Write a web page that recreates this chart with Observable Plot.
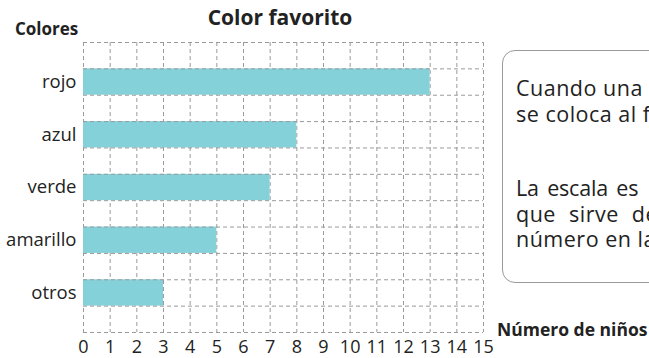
<!DOCTYPE html>
<html>
<head>
<meta charset="utf-8">
<script src="https://cdn.jsdelivr.net/npm/d3@7"></script>
<script src="https://cdn.jsdelivr.net/npm/@observablehq/plot@0.6"></script>
<style>
  html, body { margin: 0; padding: 0; background: #fff; overflow: hidden; }
  body { width: 649px; height: 358px; position: relative; font-family: "Open Sans", sans-serif; color: #222; }
  #chart { position: absolute; left: 0; top: 0; }
  .lbl { position: absolute; font-weight: bold; white-space: nowrap; color: #222; }
  #title { left: 0; width: 560px; text-align: center; top: 3px; font-size: 21px; }
  #ylab { left: 15px; top: 17px; font-size: 17px; }
  #xlab { left: 497px; top: 317px; font-size: 17.5px; }
  #note { position: absolute; left: 502px; top: 50px; width: 320px; height: 233px; border: 1px solid #9a9a9a; border-radius: 13px; box-sizing: border-box; padding: 24px 0 0 13px; font-size: 21.5px; line-height: 25.5px; letter-spacing: 0.5px; color: #222; white-space: nowrap; }
  #note .gap { height: 49px; }
  #note .rest { margin-left: 30px; }
</style>
</head>
<body>
<div id="chart"></div>
<div class="lbl" id="title">Color favorito</div>
<div class="lbl" id="ylab">Colores</div>
<div class="lbl" id="xlab">Número de niños</div>
<div id="note">
  <div>Cuando una<span class="rest">categoría tiene poca frecuencia</span></div>
  <div>se coloca al final como “otros”.</div>
  <div class="gap"></div>
  <div style="letter-spacing:-0.2px; word-spacing:3px">La escala es<span class="rest">el valor de referencia</span></div>
  <div style="word-spacing:7px">que sirve de guía para ubicar cada</div>
  <div>número en la gráfica.</div>
</div>
<script>
const categories = ["rojo", "azul", "verde", "amarillo", "otros"];
const values = [13, 8, 7, 5, 3];
const xTicks = d3.range(0, 16);
const rowLines = d3.range(0, 12);

const data = categories.map((c, i) => ({ color: c, n: values[i], y1: 2 * i + 1, y2: 2 * i + 2, yc: 2 * i + 1.5 }));

const plot = Plot.plot({
  width: 649,
  height: 358,
  marginLeft: 83,
  marginRight: 166,
  marginTop: 42,
  marginBottom: 26,
  style: { fontFamily: "Open Sans, sans-serif", fontSize: "16px", color: "#222", background: "transparent" },
  x: { domain: [0, 15], axis: null },
  y: { domain: [0, 11], reverse: true, axis: null },
  marks: [
    Plot.ruleX(xTicks, { x: d => d, stroke: "#9a9a9a", strokeDasharray: "4,3", strokeWidth: 1 }),
    Plot.rectX(data, { x1: 0, x2: "n", y1: "y1", y2: "y2", fill: "#84d1d9" }),
    Plot.ruleY(rowLines, { y: d => d, stroke: "#9a9a9a", strokeDasharray: "4,3", strokeWidth: 1 }),
    Plot.axisX(xTicks, { anchor: "bottom", label: null, tickSize: 0, tickPadding: 8, fontSize: 18, tickFormat: d => String(d), fill: "#222" }),
    Plot.axisY(data.map(d => d.yc), { anchor: "left", label: null, tickSize: 0, tickPadding: 7, fontSize: 18.5, tickFormat: (d, i) => categories[i], fill: "#222" })
  ]
});
document.getElementById("chart").appendChild(plot);
</script>
</body>
</html>
